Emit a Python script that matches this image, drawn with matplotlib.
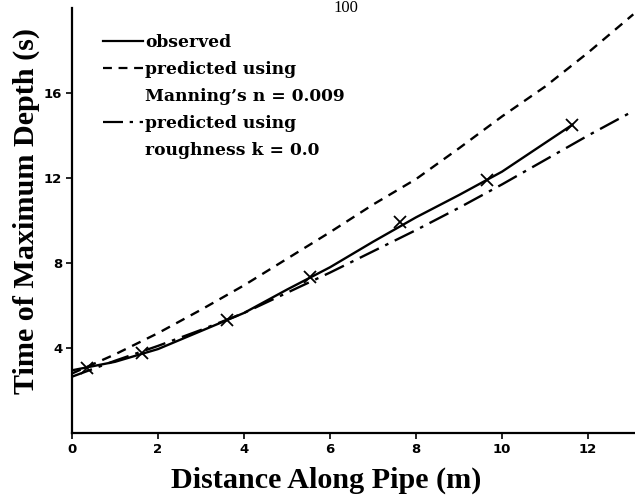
import matplotlib
matplotlib.use("Agg")
import matplotlib.pyplot as plt
from matplotlib.lines import Line2D

# ── data ──────────────────────────────────────────────────────────────
# observed points (crosses)
obs_x = [0.35, 1.63, 3.60, 5.53, 7.63, 9.65, 11.63]
obs_y = [3.06, 3.76, 5.32, 7.34, 9.93, 11.90, 14.50]

# observed curve (solid)
fit_x = [0, 1, 2, 3, 4, 5, 6, 7, 8, 9, 10, 11, 11.63]
fit_y = [2.95, 3.35, 3.95, 4.80, 5.65, 6.75, 7.80, 9.00, 10.15, 11.20, 12.30, 13.65, 14.50]

# predicted, Manning's n = 0.009 (dashed)
man_x = [0, 1, 2, 3, 4, 5, 6, 7, 8, 9, 10, 11, 12, 13.05]
man_y = [2.80, 3.70, 4.70, 5.80, 6.95, 8.20, 9.45, 10.75, 11.95, 13.40, 14.90, 16.30, 17.90, 19.70]

# predicted, roughness k = 0.0 (dash-dot)
rough_x = [0, 1, 2, 3, 4, 5, 6, 7, 8, 9, 10, 11, 12, 13.05]
rough_y = [2.65, 3.40, 4.10, 4.85, 5.65, 6.60, 7.55, 8.55, 9.55, 10.60, 11.70, 12.85, 14.00, 15.15]

x_ticks = [0, 2, 4, 6, 8, 10, 12]
y_ticks = [4, 8, 12, 16]

legend_labels = ["observed", "predicted using", "Manning\u2019s n = 0.009",
                 "predicted using", "roughness k = 0.0"]

# ── figure ────────────────────────────────────────────────────────────
fig = plt.figure(figsize=(6.35, 4.98), dpi=100)
ax = fig.add_axes([0.1134, 0.1305, 0.8866, 0.8535])

DASHED = (0, (4.0, 3.0))
DASHDOT = (0, (9.0, 3.0, 1.5, 3.0))

ax.plot(fit_x, fit_y, "-", color="black", linewidth=1.7)
ax.plot(man_x, man_y, linestyle=DASHED, color="black", linewidth=1.7)
ax.plot(rough_x, rough_y, linestyle=DASHDOT, color="black", linewidth=1.7)
ax.plot(obs_x, obs_y, "x", color="black", markersize=8, markeredgewidth=1.3)

ax.set_xlim(0, 13.09)
ax.set_ylim(0, 20.0)
ax.spines["top"].set_visible(False)
ax.spines["right"].set_visible(False)
ax.spines["left"].set_linewidth(1.6)
ax.spines["bottom"].set_linewidth(1.6)

tick_font = dict(family="DejaVu Sans", weight="bold", size=9.5)
ax.set_xticks(x_ticks)
ax.set_xticklabels([str(t) for t in x_ticks], fontdict=tick_font)
ax.set_yticks(y_ticks)
ax.set_yticklabels([str(t) for t in y_ticks], fontdict=tick_font)
ax.tick_params(axis="both", direction="out", length=4, width=1.2, pad=3)

label_font = dict(family="Liberation Serif", weight="bold", size=21.7)
ax.set_xlabel("Distance Along Pipe (m)", fontdict=label_font, labelpad=8)
ax.set_ylabel("Time of Maximum Depth (s)", fontdict=label_font, labelpad=3)
ax.xaxis.label.set_x(0.451)
ax.yaxis.label.set_y(0.522)

# legend: continuation lines get an invisible handle
handles = [
    Line2D([], [], color="black", linewidth=1.6),
    Line2D([], [], color="black", linewidth=1.6, linestyle=DASHED),
    Line2D([], [], color="none"),
    Line2D([], [], color="black", linewidth=1.6, linestyle=DASHDOT),
    Line2D([], [], color="none"),
]
leg = ax.legend(handles, legend_labels, loc="upper left",
                bbox_to_anchor=(0.0436, 0.955), frameon=False,
                prop=dict(family="DejaVu Serif", weight="bold", size=12.3),
                handlelength=2.3, handletextpad=0.15, labelspacing=0.59,
                borderaxespad=0)

# page number of the scanned page, at the top edge
fig.text(0.545, 1.0, "100", ha="center", va="top",
         fontsize=12, family="Liberation Serif")

fig.savefig("out.png", dpi=100)
